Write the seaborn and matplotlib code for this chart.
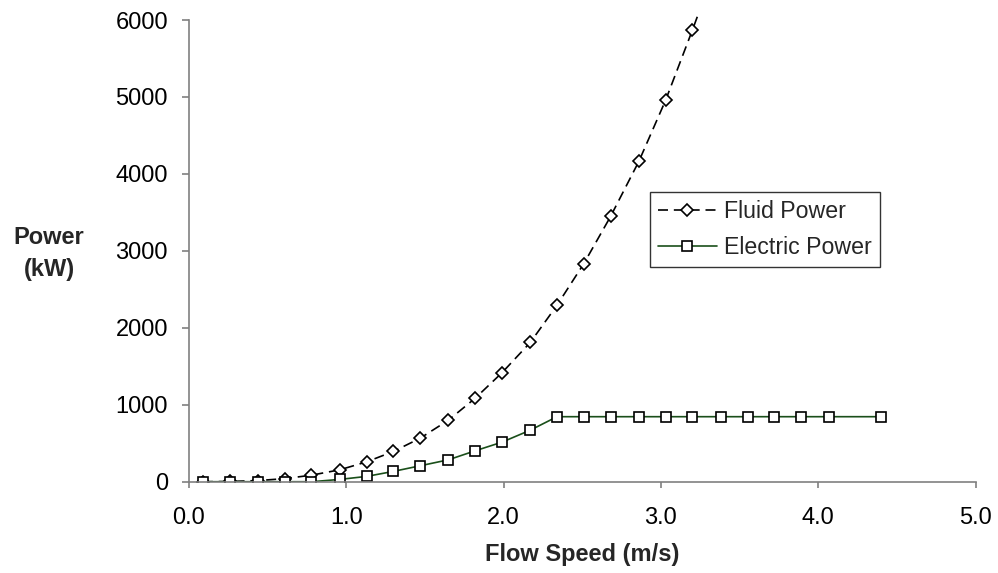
import matplotlib
matplotlib.use("Agg")
import matplotlib.pyplot as plt
import seaborn as sns
import pandas as pd

# Data
speed = [0.09, 0.26, 0.44, 0.61, 0.78, 0.96, 1.13, 1.30, 1.47, 1.65, 1.82, 1.99,
         2.17, 2.34, 2.51, 2.68, 2.86, 3.03, 3.20, 3.38, 3.55, 3.72, 3.89, 4.07, 4.40]
fluid_speed = speed[:20]
fluid_power = [0, 3, 15, 40, 85, 155, 258, 393, 565, 800, 1085, 1416,
               1810, 2294, 2834, 3447, 4164, 4959, 5870, 6870]
electric_power = [0, 0, 0, 0, 0, 30, 69, 134, 207, 285, 402, 514,
                  670, 845, 845, 845, 845, 845, 845, 845, 845, 845, 845, 845, 845]
x_ticks = [0.0, 1.0, 2.0, 3.0, 4.0, 5.0]
y_ticks = [0, 1000, 2000, 3000, 4000, 5000, 6000]

sns.set_style("ticks")
plt.rcParams['font.family'] = ['Liberation Sans', 'DejaVu Sans']
FS = 17

fig = plt.figure(figsize=(9.98, 5.73), dpi=100)
# data area extends slightly above 6000 so the curve runs past the top tick
top_px = 12
ax = fig.add_axes([0.1891, 0.1593, 0.7886, (481.7 - top_px) / 573])
ymax = 6000 * (481.7 - top_px) / (481.7 - 20)

df_f = pd.DataFrame({"speed": fluid_speed, "power": fluid_power})
df_e = pd.DataFrame({"speed": speed, "power": electric_power})

sns.lineplot(data=df_f, x="speed", y="power", ax=ax, sort=False,
             color="black", linestyle=(0, (6, 3.5)), linewidth=1.2,
             marker="D", markersize=6, markerfacecolor="white",
             markeredgecolor="black", markeredgewidth=1.2,
             label="Fluid Power")
sns.lineplot(data=df_e, x="speed", y="power", ax=ax, sort=False,
             color="#1A4F1A", linewidth=1.2,
             marker="s", markersize=7.5, markerfacecolor="white",
             markeredgecolor="black", markeredgewidth=1.2,
             label="Electric Power")

ax.set_xlim(0, 5)
ax.set_ylim(0, ymax)
ax.set_xticks(x_ticks)
ax.set_xticklabels([f"{v:.1f}" for v in x_ticks])
ax.set_yticks(y_ticks)
ax.set_yticklabels([str(v) for v in y_ticks])

for side in ["top", "right"]:
    ax.spines[side].set_visible(False)
for side in ["left", "bottom"]:
    ax.spines[side].set_color("#808080")
    ax.spines[side].set_linewidth(1.2)
ax.spines["left"].set_bounds(0, 6000)

ax.tick_params(axis="x", direction="out", length=4, width=1.2, color="#808080",
               labelsize=FS, pad=14, labelcolor="black")
ax.tick_params(axis="y", direction="out", length=5, width=1.2, color="#808080",
               labelsize=FS, pad=10, labelcolor="black")

ax.set_xlabel("Flow Speed (m/s)", fontsize=FS, fontweight="bold", va="center")
ax.xaxis.set_label_coords(0.50, -0.158 * 461.7 / (481.7 - top_px))
ax.set_ylabel("Power\n(kW)", fontsize=FS, fontweight="bold", rotation=0,
              ha="center", va="center", linespacing=1.5)
ax.yaxis.set_label_coords(-0.1775, (481.7 - 253) / (481.7 - top_px))

leg = ax.legend(loc="upper left",
                bbox_to_anchor=(0.586, (481.7 - 192.3) / (481.7 - top_px)),
                fontsize=16.7, frameon=True, fancybox=False, edgecolor="black",
                handlelength=2.55, handletextpad=0.33, borderpad=0.33,
                labelspacing=0.56, borderaxespad=0)
leg.get_frame().set_linewidth(1.0)

fig.savefig("out.png", dpi=100)
